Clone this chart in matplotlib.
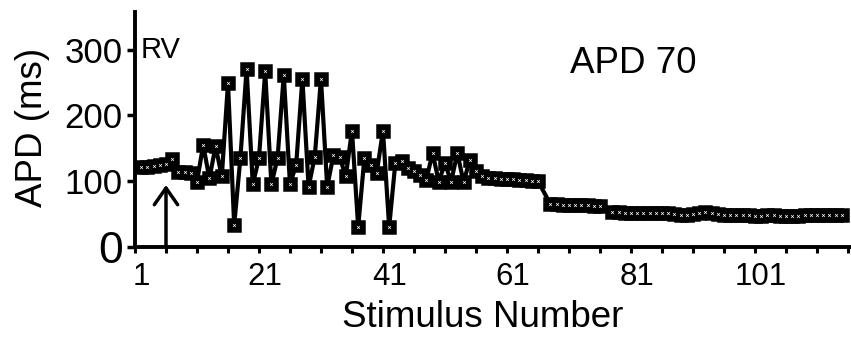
import matplotlib.pyplot as plt
import numpy as np

plt.rcParams['font.family'] = ['Liberation Sans', 'DejaVu Sans']

# stimulus numbers (a few stimuli are hidden under neighbouring markers)
stim = list(range(1, 66)) + list(range(67, 76)) + list(range(77, 115))

# APD70 values in ms
apd = [121, 122, 123, 124, 126, 134, 114, 114, 113, 99, 155, 104, 153, 107,
       249, 33, 135, 271, 95, 135, 267, 95, 135, 262, 95, 125, 256, 91, 137, 256, 91,
       139, 137, 107, 177, 30, 135, 125, 113, 177, 30, 128, 130, 120, 115, 109,
       102, 143, 99, 127, 99, 143, 98, 132, 115, 108,
       105, 104, 103, 103, 103, 102, 101, 100, 100,
       65, 65, 64, 64, 63, 63, 63, 62, 62,
       53, 53, 52, 52, 52, 52, 51, 51, 51, 51, 50,
       49, 49, 50, 52, 53, 52, 50, 49, 48, 48, 48, 48, 47, 47, 48, 48, 47, 47,
       47, 47, 48, 48, 48, 49, 49, 48, 48]

xlabels = ['1', '21', '41', '61', '81', '101']
xlabel_pos = [1, 21, 41, 61, 81, 101]
yticks = [0, 100, 200, 300]

fig = plt.figure(figsize=(8.51, 3.4), dpi=100)
ax = fig.add_axes([135 / 851, 93.3 / 340, 716 / 851, 235 / 340])

ax.plot(stim, apd, color='black', lw=3, marker='s', ms=8.5,
        mfc='black', mec='black', mew=1.8)
ax.plot(stim, apd, ls='none', marker='x', ms=2, mec='white', mew=0.5)

ax.set_xlim(0, 115.5)
ax.set_ylim(0, 358)

for s in ['top', 'right']:
    ax.spines[s].set_visible(False)
for s in ['left', 'bottom']:
    ax.spines[s].set_linewidth(2.8)

ax.set_yticks(yticks)
ax.set_yticklabels([str(v) for v in yticks])
ax.tick_params(axis='y', length=6, width=2.5, labelsize=25, pad=3)
ax.get_yticklabels()[0].set_fontsize(32)

ax.set_xticks(xlabel_pos)
ax.set_xticklabels(xlabels)
ax.set_xticks(np.arange(0, 116, 5), minor=True)
ax.tick_params(axis='x', which='major', length=0, pad=11, labelsize=22.5)
ax.tick_params(axis='x', which='minor', length=4.5, width=2.2)

ax.set_xlabel('Stimulus Number', fontsize=26.5)
ax.xaxis.set_label_coords(0.486, -0.227)
ax.set_ylabel('APD (ms)', fontsize=26.5)
ax.yaxis.set_label_coords(-0.119, 0.509)

ax.text(0.008, 0.803, 'RV', transform=ax.transAxes, fontsize=21)
ax.text(0.6075, 0.739, 'APD 70', transform=ax.transAxes, fontsize=26.5)

# arrow marking stimulus 5
ax.annotate('', xy=(5, 94), xytext=(5, 0),
            arrowprops=dict(arrowstyle='->,head_length=0.6,head_width=0.42',
                            lw=2.5, color='black', shrinkA=0, shrinkB=0,
                            mutation_scale=20))

fig.savefig('out.png', dpi=100, facecolor='white')
